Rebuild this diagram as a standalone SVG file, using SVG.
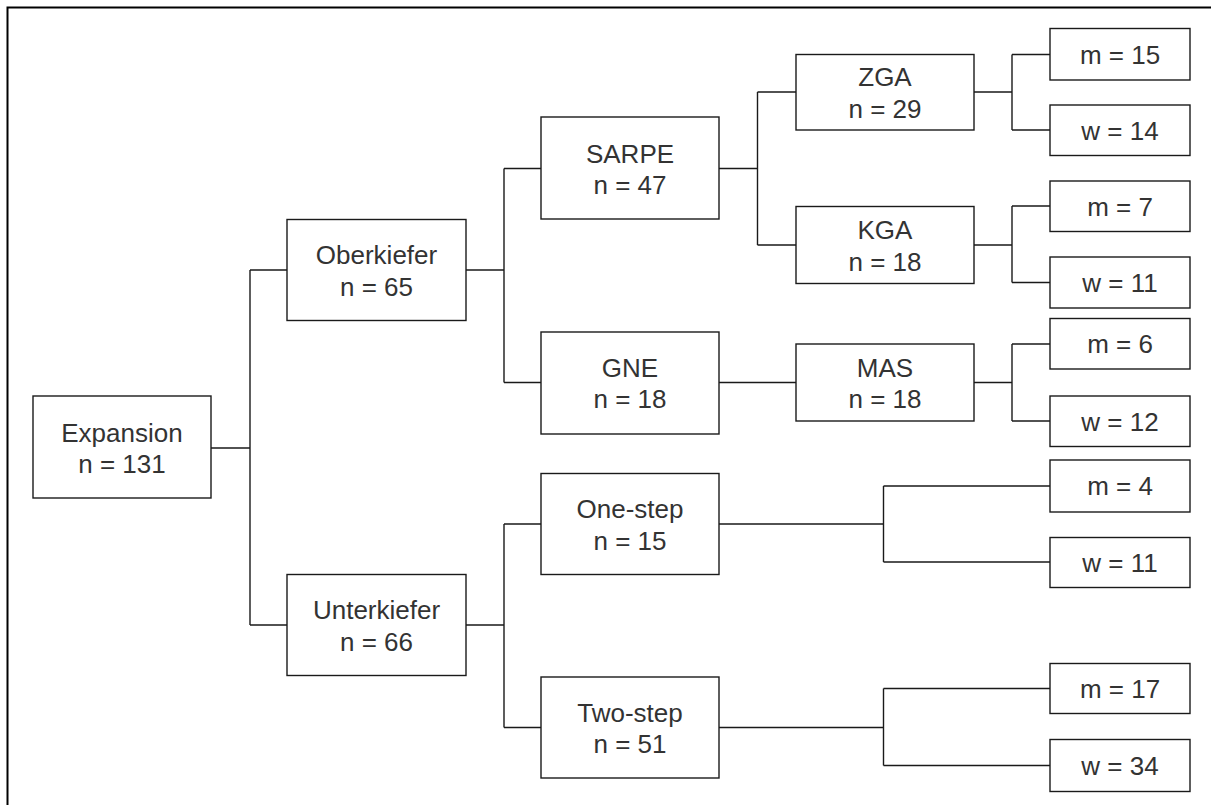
<svg xmlns="http://www.w3.org/2000/svg" width="1211" height="805" viewBox="0 0 1211 805">
<style>
rect.box{fill:#fff;stroke:#1a1a1a;stroke-width:1.4}
.con path{fill:none;stroke:#1a1a1a;stroke-width:1.4}
text{font-family:"Liberation Sans",Arial,sans-serif;font-size:26px;fill:#333;text-anchor:middle}
</style>
<rect width="1211" height="805" fill="#fff"/>
<path d="M7.5,805 V7.5 H1211" fill="none" stroke="#000" stroke-width="2"/>
<g class="con">
<path d="M211,448 H250 M250,270 V625 M250,270 H287 M250,625 H287"/>
<path d="M466,270 H504 M504,168.5 V382.5 M504,168.5 H541 M504,382.5 H541"/>
<path d="M466,625 H504 M504,524 V727.5 M504,524 H541 M504,727.5 H541"/>
<path d="M719,168.5 H757.5 M757.5,92 V245 M757.5,92 H796 M757.5,245 H796"/>
<path d="M719,382.5 H796"/>
<path d="M974,92 H1012 M1012,54.5 V130 M1012,54.5 H1050 M1012,130 H1050"/>
<path d="M974,245 H1012 M1012,206 V282.5 M1012,206 H1050 M1012,282.5 H1050"/>
<path d="M974,382.5 H1012 M1012,344 V421 M1012,344 H1050 M1012,421 H1050"/>
<path d="M719,524 H883.5 M883.5,486 V562 M883.5,486 H1050 M883.5,562 H1050"/>
<path d="M719,727.5 H883.5 M883.5,688.5 V765.5 M883.5,688.5 H1050 M883.5,765.5 H1050"/>
</g>
<g id="expansion"><rect class="box" x="33" y="396" width="178" height="102"/><text x="122" y="441.5">Expansion</text><text x="122" y="473">n = 131</text></g>
<g id="oberkiefer"><rect class="box" x="287" y="219.5" width="179" height="101"/><text x="376.5" y="264">Oberkiefer</text><text x="376.5" y="295.5">n = 65</text></g>
<g id="unterkiefer"><rect class="box" x="287" y="574.5" width="179" height="101"/><text x="376.5" y="619">Unterkiefer</text><text x="376.5" y="650.5">n = 66</text></g>
<g id="sarpe"><rect class="box" x="541" y="117" width="178" height="102"/><text x="630" y="162.5">SARPE</text><text x="630" y="194">n = 47</text></g>
<g id="gne"><rect class="box" x="541" y="332" width="178" height="102"/><text x="630" y="376.5">GNE</text><text x="630" y="408">n = 18</text></g>
<g id="onestep"><rect class="box" x="541" y="473.5" width="178" height="101"/><text x="630" y="518">One-step</text><text x="630" y="549.5">n = 15</text></g>
<g id="twostep"><rect class="box" x="541" y="677" width="178" height="101"/><text x="630" y="721.5">Two-step</text><text x="630" y="753">n = 51</text></g>
<g id="zga"><rect class="box" x="796" y="54.5" width="178" height="75.5"/><text x="885" y="86">ZGA</text><text x="885" y="117.5">n = 29</text></g>
<g id="kga"><rect class="box" x="796" y="206.5" width="178" height="77"/><text x="885" y="239">KGA</text><text x="885" y="270.5">n = 18</text></g>
<g id="mas"><rect class="box" x="796" y="344" width="178" height="77"/><text x="885" y="376.5">MAS</text><text x="885" y="408">n = 18</text></g>
<g id="m15"><rect class="box" x="1050" y="28.5" width="140" height="51.5"/><text x="1120" y="63.5">m = 15</text></g>
<g id="w14"><rect class="box" x="1050" y="105" width="140" height="50.5"/><text x="1120" y="139.5">w = 14</text></g>
<g id="m7"><rect class="box" x="1050" y="181" width="140" height="50.5"/><text x="1120" y="215.5">m = 7</text></g>
<g id="w11a"><rect class="box" x="1050" y="257" width="140" height="51"/><text x="1120" y="291.5">w = 11</text></g>
<g id="m6"><rect class="box" x="1050" y="318.5" width="140" height="50.5"/><text x="1120" y="353">m = 6</text></g>
<g id="w12"><rect class="box" x="1050" y="396" width="140" height="50.5"/><text x="1120" y="430.5">w = 12</text></g>
<g id="m4"><rect class="box" x="1050" y="460" width="140" height="52"/><text x="1120" y="495">m = 4</text></g>
<g id="w11b"><rect class="box" x="1050" y="537.5" width="140" height="50"/><text x="1120" y="571.5">w = 11</text></g>
<g id="m17"><rect class="box" x="1050" y="663.5" width="140" height="50"/><text x="1120" y="697.5">m = 17</text></g>
<g id="w34"><rect class="box" x="1050" y="739.5" width="140" height="52"/><text x="1120" y="774.5">w = 34</text></g>
</svg>
